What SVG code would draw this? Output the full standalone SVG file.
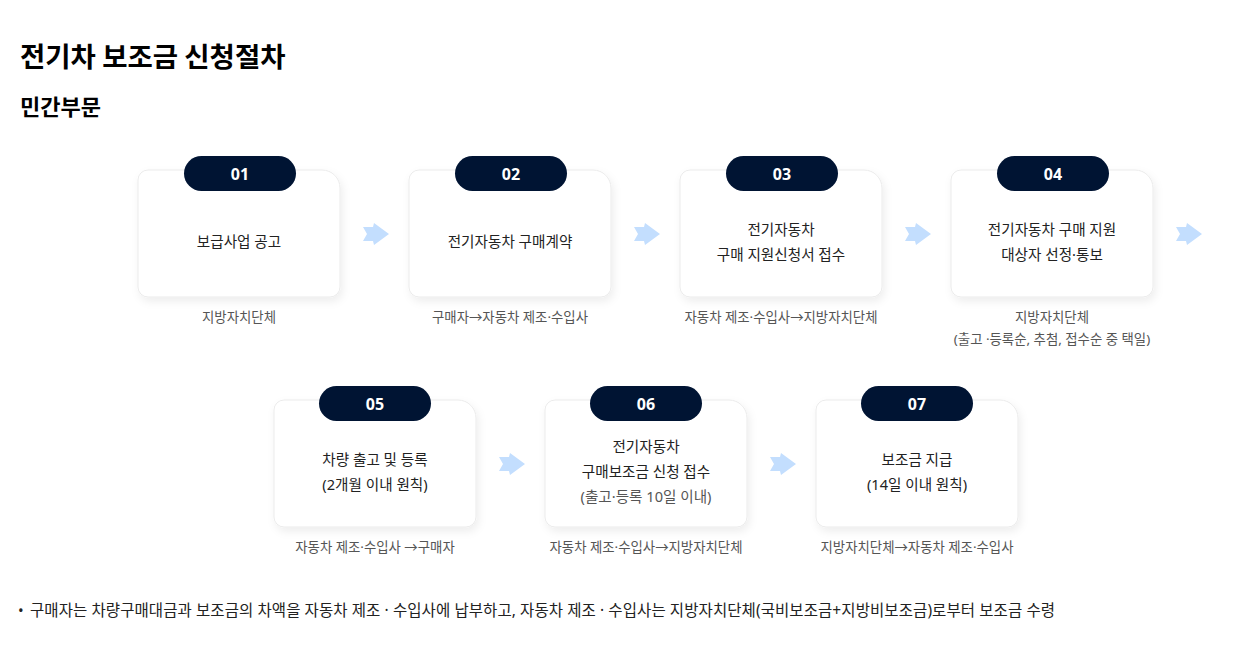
<svg xmlns="http://www.w3.org/2000/svg" width="1251" height="671" viewBox="0 0 1251 671">
<defs>
<filter id="sh" x="-10%" y="-10%" width="130%" height="130%">
<feDropShadow dx="2" dy="4" stdDeviation="4" flood-color="#000" flood-opacity="0.07"/>
</filter>
<path id="card" d="M10,0 H184 A18,18 0 0 1 202,18 V117 A10,10 0 0 1 192,127 H10 A10,10 0 0 1 0,117 V10 A10,10 0 0 1 10,0 Z"/>
<polygon id="arr" points="0,4 10,4 11,0 26,11 11,22 10,18 0,18 4,11"/>
</defs>
<style>
text{font-family:"Noto Sans","Noto Sans CJK KR",sans-serif;}
.h{font-family:"Noto Sans CJK KR",sans-serif;}
.card{fill:#fff;stroke:#ebebeb;stroke-width:1;filter:url(#sh);}
.pill{fill:#001433;}
.num{fill:#fff;font-size:16px;font-weight:700;text-anchor:middle;}
.t{fill:#222;font-size:14.6px;text-anchor:middle;}
.g{fill:#555;font-size:14.6px;text-anchor:middle;}
.cap{fill:#555;font-size:13.4px;text-anchor:middle;}
.arrow{fill:#c3defe;}
</style>
<rect width="1251" height="671" fill="#fff"/>
<text class="h" x="20" y="67" font-size="27.5" font-weight="700" fill="#000">전기차 보조금 신청절차</text>
<text class="h" x="20" y="115" font-size="22" font-weight="700" fill="#000">민간부문</text>

<g id="connectors">
<use href="#arr" class="arrow" x="363" y="223"/>
<use href="#arr" class="arrow" x="634" y="223"/>
<use href="#arr" class="arrow" x="905" y="223"/>
<use href="#arr" class="arrow" x="1176" y="223"/>
<use href="#arr" class="arrow" x="499" y="453"/>
<use href="#arr" class="arrow" x="770" y="453"/>
</g>

<g id="n01">
<use href="#card" class="card" x="138" y="170"/>
<rect class="pill" x="184" y="156" width="112" height="35" rx="17.5"/>
<text class="num" x="240" y="180">01</text>
<text class="t" x="239" y="247">보급사업 공고</text>
<text class="cap" x="239" y="322">지방자치단체</text>
</g>
<g id="n02">
<use href="#card" class="card" x="409" y="170"/>
<rect class="pill" x="455" y="156" width="112" height="35" rx="17.5"/>
<text class="num" x="511" y="180">02</text>
<text class="t" x="510" y="247">전기자동차 구매계약</text>
<text class="cap" x="510" y="322">구매자→자동차 제조·수입사</text>
</g>
<g id="n03">
<use href="#card" class="card" x="680" y="170"/>
<rect class="pill" x="726" y="156" width="112" height="35" rx="17.5"/>
<text class="num" x="782" y="180">03</text>
<text class="t" x="781" y="235">전기자동차</text>
<text class="t" x="781" y="260">구매 지원신청서 접수</text>
<text class="cap" x="781" y="322">자동차 제조·수입사→지방자치단체</text>
</g>
<g id="n04">
<use href="#card" class="card" x="951" y="170"/>
<rect class="pill" x="997" y="156" width="112" height="35" rx="17.5"/>
<text class="num" x="1053" y="180">04</text>
<text class="t" x="1052" y="235">전기자동차 구매 지원</text>
<text class="t" x="1052" y="260">대상자 선정·통보</text>
<text class="cap" x="1052" y="322">지방자치단체</text>
<text class="cap" x="1052" y="344">(출고 ·등록순, 추첨, 접수순 중 택일)</text>
</g>
<g id="n05">
<use href="#card" class="card" x="274" y="400"/>
<rect class="pill" x="319" y="386" width="112" height="35" rx="17.5"/>
<text class="num" x="375" y="410">05</text>
<text class="t" x="375" y="465">차량 출고 및 등록</text>
<text class="t" x="375" y="490">(2개월 이내 원칙)</text>
<text class="cap" x="375" y="552">자동차 제조·수입사 →구매자</text>
</g>
<g id="n06">
<use href="#card" class="card" x="545" y="400"/>
<rect class="pill" x="590" y="386" width="112" height="35" rx="17.5"/>
<text class="num" x="646" y="410">06</text>
<text class="t" x="646" y="452">전기자동차</text>
<text class="t" x="646" y="477">구매보조금 신청 접수</text>
<text class="g" x="646" y="502">(출고·등록 10일 이내)</text>
<text class="cap" x="646" y="552">자동차 제조·수입사→지방자치단체</text>
</g>
<g id="n07">
<use href="#card" class="card" x="816" y="400"/>
<rect class="pill" x="861" y="386" width="112" height="35" rx="17.5"/>
<text class="num" x="917" y="410">07</text>
<text class="t" x="917" y="465">보조금 지급</text>
<text class="t" x="917" y="490">(14일 이내 원칙)</text>
<text class="cap" x="917" y="552">지방자치단체→자동차 제조·수입사</text>
</g>

<text x="18" y="616" font-size="15" fill="#222">•</text>
<text x="30" y="616" font-size="15.5" fill="#222" textLength="1025" lengthAdjust="spacing">구매자는 차량구매대금과 보조금의 차액을 자동차 제조 · 수입사에 납부하고, 자동차 제조 · 수입사는 지방자치단체(국비보조금+지방비보조금)로부터 보조금 수령</text>
</svg>
